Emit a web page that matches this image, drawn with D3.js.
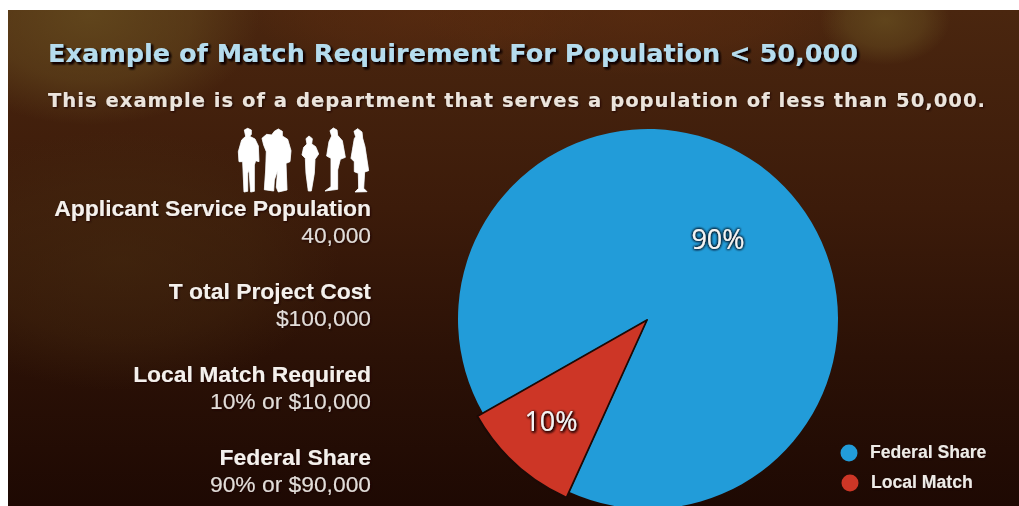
<!DOCTYPE html>
<html>

<head>
  <title>Match Requirement</title>
  <script src="https://cdn.jsdelivr.net/npm/d3@7"></script>
  <style>
    body {
      margin: 0;
      background: #fff;
      overflow: hidden;
    }

    svg {
      display: block;
    }

    .title {
      font: bold 25.5px "DejaVu Sans", sans-serif;
      fill: #b5dcee;
    }

    .subtitle {
      font: bold 19.5px "DejaVu Sans", sans-serif;
      fill: #ece4dc;
    }

    .label {
      font: bold 22.9px "Liberation Sans", sans-serif;
      fill: #f5f0ec;
      text-anchor: end;
    }

    .value {
      font: 22.8px "Liberation Sans", sans-serif;
      fill: #e2dcd8;
      text-anchor: end;
    }

    .pct {
      font: 27px "Open Sans", sans-serif;
      fill: #f4f4f4;
      text-anchor: middle;
    }

    .legend-text {
      font: bold 17.6px "Liberation Sans", sans-serif;
      fill: #eeeae6;
    }
  </style>
</head>

<body>
  <svg id="chart" width="1019" height="506"></svg>

  <script type="text/javascript">
    var sliceNames = ['Federal Share', 'Local Match'];
    var sliceValues = [90, 10];
    var sliceLabels = ['90%', '10%'];
    var sliceColors = ['#229cd9', '#cd3626'];

    var infoLabels = ['Applicant Service Population', 'T otal Project Cost', 'Local Match Required', 'Federal Share'];
    var infoValues = ['40,000', '$100,000', '10% or $10,000', '90% or $90,000'];

    var titleText = 'Example of Match Requirement For Population < 50,000';
    var subtitleText = 'This example is of a department that serves a population of less than 50,000.';

    // outlines of the people icon, in 3x pixels of the icon box
    var people = [
      [[58, 30], [68, 25], [79, 30], [79, 43], [74, 49], [90, 57], [100, 78], [102, 125], [92, 122], [88, 135], [88, 214], [77, 216], [72, 150], [68, 160], [68, 214], [57, 216], [53, 125], [42, 125], [40, 95], [50, 60], [62, 49]],
      [[111, 55], [125, 43], [140, 45], [148, 34], [160, 27], [172, 34], [172, 48], [188, 58], [198, 92], [195, 125], [183, 130], [186, 210], [160, 216], [154, 202], [158, 150], [148, 180], [146, 213], [118, 209], [122, 150], [124, 95], [116, 75]],
      [[243, 56], [252, 48], [262, 56], [260, 72], [272, 80], [281, 102], [270, 118], [268, 160], [259, 213], [250, 213], [243, 160], [241, 115], [231, 105], [236, 82], [246, 72]],
      [[315, 32], [325, 24], [336, 30], [338, 46], [352, 62], [361, 112], [346, 118], [338, 150], [338, 208], [300, 213], [318, 200], [318, 115], [305, 108], [312, 65], [320, 48]],
      [[387, 34], [398, 26], [411, 36], [413, 55], [420, 80], [431, 152], [419, 156], [416, 205], [426, 215], [390, 216], [401, 205], [400, 160], [388, 155], [388, 125], [378, 115], [388, 56], [392, 50]]
    ];

    var svg = d3.select('#chart');
    var defs = svg.append('defs');

    defs.append('clipPath').attr('id', 'panel')
      .append('rect').attr('x', 8).attr('y', 10).attr('width', 1011).attr('height', 496);

    var base = defs.append('linearGradient').attr('id', 'bg').attr('x1', 0).attr('y1', 0).attr('x2', 0).attr('y2', 1);
    base.append('stop').attr('offset', '0%').attr('stop-color', '#4a260f');
    base.append('stop').attr('offset', '40%').attr('stop-color', '#3c1b0a');
    base.append('stop').attr('offset', '70%').attr('stop-color', '#2b1106');
    base.append('stop').attr('offset', '100%').attr('stop-color', '#1e0903');

    function glow(id, color, opacity) {
      var g = defs.append('radialGradient').attr('id', id);
      g.append('stop').attr('offset', '0%').attr('stop-color', color).attr('stop-opacity', opacity);
      g.append('stop').attr('offset', '60%').attr('stop-color', color).attr('stop-opacity', opacity * 0.6);
      g.append('stop').attr('offset', '100%').attr('stop-color', color).attr('stop-opacity', 0);
    }
    glow('glowOlive', '#644a1e', 0.85);
    glow('glowOrange', '#5c2c10', 0.6);
    glow('glowBrown', '#452a10', 0.6);

    var root = svg.append('g').attr('clip-path', 'url(#panel)');
    root.append('rect').attr('x', 8).attr('y', 10).attr('width', 1011).attr('height', 496).attr('fill', 'url(#bg)');

    var glows = [
      ['glowBrown', 120, 260, 220, 130],
      ['glowOlive', 90, 15, 170, 110],
      ['glowOrange', 420, 15, 170, 55],
      ['glowOrange', 640, 15, 220, 60],
      ['glowOlive', 885, 20, 65, 45]
    ];
    root.selectAll('ellipse.glow')
      .data(glows)
      .enter()
      .append('ellipse')
      .attr('class', 'glow')
      .attr('cx', d => d[1])
      .attr('cy', d => d[2])
      .attr('rx', d => d[3])
      .attr('ry', d => d[4])
      .attr('fill', d => 'url(#' + d[0] + ')');

    // text shadows
    function shadow(id, dx, dy, blur, color, soft, passes) {
      var f = defs.append('filter').attr('id', id)
        .attr('x', '-10%').attr('y', '-40%').attr('width', '120%').attr('height', '180%');
      f.append('feGaussianBlur').attr('in', 'SourceGraphic').attr('stdDeviation', soft).attr('result', 'soft');
      f.append('feGaussianBlur').attr('in', 'SourceAlpha').attr('stdDeviation', blur).attr('result', 'b');
      f.append('feOffset').attr('in', 'b').attr('dx', dx).attr('dy', dy).attr('result', 'o');
      f.append('feFlood').attr('flood-color', color);
      f.append('feComposite').attr('in2', 'o').attr('operator', 'in').attr('result', 's');
      var m = f.append('feMerge');
      d3.range(passes).forEach(() => m.append('feMergeNode').attr('in', 's'));
      m.append('feMergeNode').attr('in', 'soft');
    }
    shadow('titleShadow', 2, 2, 1.2, '#140602', 0.4, 2);
    shadow('softShadow', 1, 1, 0.8, '#1e0a04', 0.4, 1);
    shadow('pctBlue', 0, 0, 1.5, '#0c1c28', 0.3, 3);
    shadow('pctRed', 1, 1, 1.5, '#2a0a06', 0.3, 3);

    root.append('text').attr('class', 'title')
      .attr('x', 48).attr('y', 62)
      .attr('textLength', 810).attr('lengthAdjust', 'spacing')
      .attr('filter', 'url(#titleShadow)')
      .text(titleText);

    root.append('text').attr('class', 'subtitle')
      .attr('x', 48).attr('y', 107)
      .attr('textLength', 937).attr('lengthAdjust', 'spacing')
      .attr('filter', 'url(#softShadow)')
      .text(subtitleText);

    // people icon
    var outline = d3.line().curve(d3.curveLinearClosed);
    root.append('g')
      .attr('transform', 'translate(225,120) scale(0.3333)')
      .attr('filter', 'url(#softShadow)')
      .selectAll('path')
      .data(people)
      .enter()
      .append('path')
      .attr('d', outline)
      .attr('fill', '#fff')
      .attr('stroke', '#fff')
      .attr('stroke-width', 2)
      .attr('stroke-linejoin', 'round');

    // left column
    var labelY = d3.scalePoint().domain(infoLabels).range([216, 465]);
    var info = root.append('g').attr('filter', 'url(#softShadow)');
    info.selectAll('text.label')
      .data(infoLabels)
      .enter()
      .append('text')
      .attr('class', 'label')
      .attr('x', 371)
      .attr('y', d => labelY(d))
      .text(d => d);
    info.selectAll('text.value')
      .data(infoValues)
      .enter()
      .append('text')
      .attr('class', 'value')
      .attr('x', 371)
      .attr('y', (d, i) => labelY(infoLabels[i]) + 27)
      .text(d => d);

    // pie
    var pie = d3.pie().sort(null)
      .startAngle(240.4 * Math.PI / 180)
      .endAngle((240.4 + 360) * Math.PI / 180);
    var slices = pie(sliceValues);

    var blueArc = d3.arc().innerRadius(0).outerRadius(190);
    var redArc = d3.arc().innerRadius(0).outerRadius(195);

    root.append('path')
      .datum(slices[0])
      .attr('transform', 'translate(648,319)')
      .attr('d', blueArc)
      .attr('fill', sliceColors[0]);

    root.append('path')
      .datum(slices[1])
      .attr('transform', 'translate(647,320)')
      .attr('d', redArc)
      .attr('fill', sliceColors[1])
      .attr('stroke', '#1c0a06')
      .attr('stroke-width', 1.8)
      .attr('stroke-linejoin', 'round');

    root.append('text').attr('class', 'pct')
      .attr('x', 718).attr('y', 249)
      .attr('filter', 'url(#pctBlue)')
      .text(sliceLabels[0]);

    root.append('text').attr('class', 'pct')
      .attr('x', 551).attr('y', 431)
      .attr('filter', 'url(#pctRed)')
      .text(sliceLabels[1]);

    // legend
    var legendY = d3.scalePoint().domain(sliceNames).range([453, 483]);
    var legend = root.selectAll('g.legend')
      .data(sliceNames)
      .enter()
      .append('g')
      .attr('class', 'legend');
    legend.append('circle')
      .attr('cx', (d, i) => 849 + i)
      .attr('cy', d => legendY(d))
      .attr('r', 8.5)
      .attr('fill', (d, i) => sliceColors[i]);
    legend.append('text')
      .attr('class', 'legend-text')
      .attr('x', (d, i) => 870 + i)
      .attr('y', d => legendY(d) + 5)
      .attr('filter', 'url(#softShadow)')
      .text(d => d);
  </script>
</body>

</html>
